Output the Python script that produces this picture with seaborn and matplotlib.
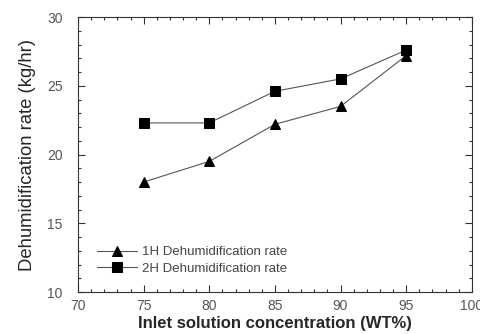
import matplotlib
matplotlib.use("Agg")
import matplotlib.pyplot as plt
from matplotlib.ticker import MultipleLocator
import seaborn as sns
import pandas as pd

# Inlet solution concentration (WT%) and dehumidification rates (kg/hr)
concentration = [75, 80, 85, 90, 95]
rate_1h = [18.0, 19.5, 22.2, 23.5, 27.2]
rate_2h = [22.3, 22.3, 24.6, 25.5, 27.6]
series_names = ["1H Dehumidification rate", "2H Dehumidification rate"]
x_ticks = [70, 75, 80, 85, 90, 95, 100]
y_ticks = [10, 15, 20, 25, 30]

sns.set_style("ticks")
plt.rcParams["font.family"] = ["Liberation Sans", "DejaVu Sans"]

df = pd.DataFrame({
    "conc": concentration * 2,
    "rate": rate_1h + rate_2h,
    "series": [series_names[0]] * len(concentration) + [series_names[1]] * len(concentration),
})

fig = plt.figure(figsize=(4.8, 3.34), dpi=100)
ax = fig.add_axes([0.1625, 0.1257, 0.8205, 0.8233])

markers = {series_names[0]: "^", series_names[1]: "s"}
for name in series_names:
    sub = df[df["series"] == name]
    sns.lineplot(data=sub, x="conc", y="rate", ax=ax, color="#555555",
                 linewidth=0.8, marker=markers[name], markersize=6.5,
                 markerfacecolor="black", markeredgecolor="black",
                 label=name)

ax.set_xlim(70, 100)
ax.set_ylim(10, 30)
ax.set_xticks(x_ticks)
ax.set_yticks(y_ticks)
ax.xaxis.set_minor_locator(MultipleLocator(1))
ax.yaxis.set_minor_locator(MultipleLocator(1))
ax.tick_params(which="both", direction="in", top=True, right=True,
               color="#333333", width=0.8)
ax.tick_params(which="major", length=5, labelsize=10, labelcolor="#555555")
ax.tick_params(axis="x", which="major", pad=5)
ax.tick_params(axis="y", which="major", pad=11)
ax.tick_params(which="minor", length=2.5)
for s in ax.spines.values():
    s.set_linewidth(0.8)
    s.set_color("#333333")

ax.set_xlabel("Inlet solution concentration (WT%)", fontsize=12, fontweight="bold",
              labelpad=2)
ax.set_ylabel("Dehumidification rate (kg/hr)", fontsize=13.3, labelpad=8)

leg = ax.legend(loc="lower left", bbox_to_anchor=(0.025, 0.03), frameon=False,
                fontsize=9.5, handlelength=3, labelspacing=0.3, borderpad=0.2,
                handletextpad=0.4)
for t in leg.get_texts():
    t.set_color("#444444")

fig.savefig("out.png", dpi=100)
